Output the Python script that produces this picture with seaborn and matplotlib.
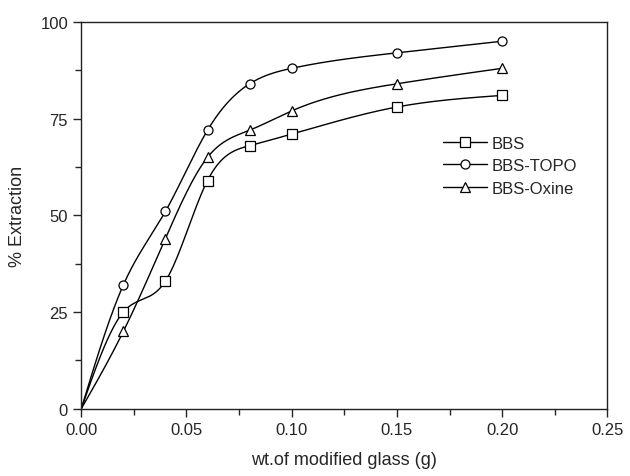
import numpy as np
import pandas as pd
import matplotlib
matplotlib.use("Agg")
import matplotlib.pyplot as plt
from matplotlib.lines import Line2D
from matplotlib.ticker import MultipleLocator
import seaborn as sns

# values
wt = [0.0, 0.02, 0.04, 0.06, 0.08, 0.10, 0.15, 0.20]
bbs = [0, 25, 33, 59, 68, 71, 78, 81]
bbs_topo = [0, 32, 51, 72, 84, 88, 92, 95]
bbs_oxine = [0, 20, 44, 65, 72, 77, 84, 88]

series = {"BBS": (bbs, "s"), "BBS-TOPO": (bbs_topo, "o"), "BBS-Oxine": (bbs_oxine, "^")}


# natural cubic spline, only used to draw the smooth line through the points
def smooth_curve(x, y, n=400):
    x = np.asarray(x, float)
    y = np.asarray(y, float)
    N = len(x)
    h = np.diff(x)
    A = np.zeros((N, N))
    r = np.zeros(N)
    A[0, 0] = A[-1, -1] = 1
    for i in range(1, N - 1):
        A[i, i - 1] = h[i - 1]
        A[i, i] = 2 * (h[i - 1] + h[i])
        A[i, i + 1] = h[i]
        r[i] = 6 * ((y[i + 1] - y[i]) / h[i] - (y[i] - y[i - 1]) / h[i - 1])
    M = np.linalg.solve(A, r)
    xs = np.linspace(x[0], x[-1], n)
    i = np.clip(np.searchsorted(x, xs) - 1, 0, N - 2)
    a = x[i + 1] - xs
    b = xs - x[i]
    ys = (M[i] * a**3 + M[i + 1] * b**3) / (6 * h[i]) \
        + (y[i] / h[i] - M[i] * h[i] / 6) * a + (y[i + 1] / h[i] - M[i + 1] * h[i] / 6) * b
    return xs, ys


sns.set_style("ticks")
plt.rcParams["font.family"] = ["Liberation Sans", "DejaVu Sans"]

fig, ax = plt.subplots(figsize=(6.3, 4.77), dpi=100)
fig.subplots_adjust(left=0.129, right=0.964, top=0.952, bottom=0.141)

handles = []
for name, (vals, mk) in series.items():
    xs, ys = smooth_curve(wt, vals)
    sns.lineplot(x=xs, y=ys, ax=ax, color="black", linewidth=1.0, sort=False)
    pts = pd.DataFrame({"wt": wt[1:], "ext": vals[1:]})
    ax.plot(pts["wt"], pts["ext"], linestyle="none", marker=mk, markersize=6.5,
            markerfacecolor="white", markeredgecolor="black", markeredgewidth=0.9, zorder=3)
    handles.append(Line2D([], [], color="black", linewidth=1.0, marker=mk, markersize=6.5,
                          markerfacecolor="white", markeredgecolor="black",
                          markeredgewidth=0.9, label=name))

ax.set_xlim(0, 0.25)
ax.set_ylim(0, 100)
ax.xaxis.set_major_locator(MultipleLocator(0.05))
ax.xaxis.set_minor_locator(MultipleLocator(0.025))
ax.yaxis.set_major_locator(MultipleLocator(25))
ax.yaxis.set_minor_locator(MultipleLocator(12.5))
ax.set_xticklabels([f"{v:.2f}" for v in ax.get_xticks()])
ax.tick_params(which="major", direction="out", length=6, width=1, labelsize=12)
ax.tick_params(which="minor", direction="out", length=4, width=1)
for sp in ax.spines.values():
    sp.set_visible(True)
    sp.set_linewidth(1.0)
    sp.set_color("#222222")

ax.set_xlabel("wt.of modified glass (g)", fontsize=13, labelpad=10)
ax.set_ylabel("% Extraction", fontsize=13, labelpad=10)

ax.legend(handles=handles, loc="upper left", bbox_to_anchor=(0.66, 0.745), frameon=False,
          fontsize=12, handlelength=2.6, handletextpad=0.3, labelspacing=0.45)

fig.savefig("out.png", dpi=100)
